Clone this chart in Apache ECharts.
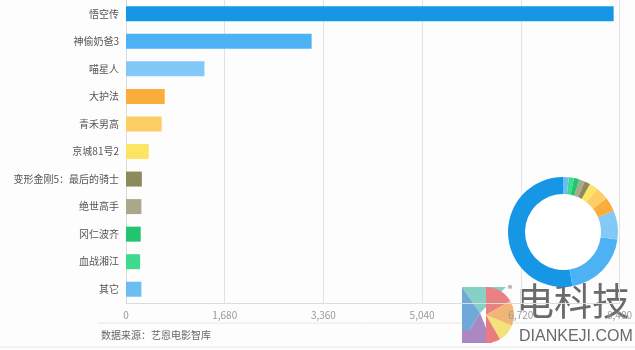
<!DOCTYPE html>
<html><head><meta charset="utf-8">
<script src="https://cdn.jsdelivr.net/npm/echarts@6/dist/echarts.min.js"></script>
<style>html,body{margin:0;padding:0;background:#fff}#c{width:635px;height:350px}</style>
</head><body><div id="c"></div>
<script>
var categories = ['悟空传','神偷奶爸3','喵星人','大护法','青禾男高','京城81号2','变形金刚5：最后的骑士','绝世高手','冈仁波齐','血战湘江','其它'];
var values = [8300, 3160, 1335, 659, 608, 389, 270, 262, 250, 240, 262];
var colors = ['#1597e6','#4cb2f4','#82c9f8','#fbad3c','#fdcd66','#fde563','#8d8b5b','#a9a88a','#22c46f','#3fdb8c','#6cbdf2'];
var tickMax = 8400, tickStep = 1680;

var chart = echarts.init(document.getElementById('c'), null, {renderer:'canvas'});
var font = '"Noto Sans CJK SC", "Noto Sans", sans-serif';
chart.setOption({
  backgroundColor:'#fdfdfd',
  animation:false,
  textStyle:{fontFamily:font},
  grid:{left:126, right:12, top:-3, bottom:47, containLabel:false},
  xAxis:{type:'value', min:0, max:tickMax, interval:tickStep,
    axisLine:{show:true, lineStyle:{color:'#dcdcdc'}},
    axisTick:{show:false},
    splitLine:{show:true, lineStyle:{color:'#e2e2e2'}},
    axisLabel:{color:'#9a9a9a', fontSize:10, margin:7, fontFamily:font,
      formatter:function(v){return v.toLocaleString('en-US');}}
  },
  yAxis:{type:'category', data:categories, inverse:true,
    axisLine:{show:true, lineStyle:{color:'#dcdcdc'}},
    axisTick:{show:false},
    axisLabel:{color:'#555', fontSize:10, margin:7, fontFamily:font}
  },
  series:[
    {type:'bar', data:values.map(function(v,i){return {value:v, itemStyle:{color:colors[i]}};}),
      barWidth:15, silent:true},
    {type:'pie', center:[563,232], radius:[0,38], silent:true, label:{show:false},
      data:[{value:1, itemStyle:{color:'#ffffff'}}], z:3},
    {type:'pie', center:[563,232], radius:[38,55], startAngle:90, clockwise:false,
      silent:true, label:{show:false}, labelLine:{show:false}, z:4,
      data:categories.map(function(c,i){return {name:c, value:values[i], itemStyle:{color:colors[i]}};})}
  ],
  graphic:[
    {type:'line', shape:{x1:98,y1:323,x2:635,y2:323}, style:{stroke:'#e6e6e6', lineWidth:1}},
    {type:'line', shape:{x1:0,y1:347,x2:635,y2:347}, style:{stroke:'#ececec', lineWidth:1}},
    {type:'text', left:101, top:330, style:{text:'数据来源：艺恩电影智库', fill:'#666', fontSize:10, fontFamily:font}},
    {type:'group', z:100, children:[
      {type:'polygon', shape:{points:[[462,287],[506,287],[480,313]]}, style:{fill:'#86d0c6'}},
      {type:'polygon', shape:{points:[[462,287],[480,313],[470,330],[462,330]]}, style:{fill:'#6fa9d8'}},
      {type:'polygon', shape:{points:[[462,330],[470,330],[480,313],[492,343],[462,343]]}, style:{fill:'#ab88c2'}},
      {type:'sector', shape:{cx:486,cy:315,r0:0,r:28,startAngle:-Math.PI/2,endAngle:-Math.PI/6}, style:{fill:'#ea8080'}},
      {type:'sector', shape:{cx:486,cy:315,r0:0,r:28,startAngle:-Math.PI/6,endAngle:Math.PI/8}, style:{fill:'#f1b676'}},
      {type:'sector', shape:{cx:486,cy:315,r0:0,r:28,startAngle:Math.PI/8,endAngle:Math.PI/3}, style:{fill:'#f3e27a'}},
      {type:'sector', shape:{cx:486,cy:315,r0:0,r:28,startAngle:Math.PI/3,endAngle:Math.PI/2}, style:{fill:'#ea7c7e'}},
      {type:'text', left:508, top:284, style:{text:'®', fill:'#666', fontSize:9, fontFamily:font}},
      {type:'text', left:516, top:282, style:{text:'电科技', fill:'#6a6a6a', fontSize:38, fontFamily:font}},
      {type:'text', left:519, top:329, style:{text:'DIANKEJI.COM', fill:'#6a6a6a', fontSize:16, fontFamily:'"Liberation Sans", sans-serif'}}
    ]}
  ]
});
</script></body></html>
